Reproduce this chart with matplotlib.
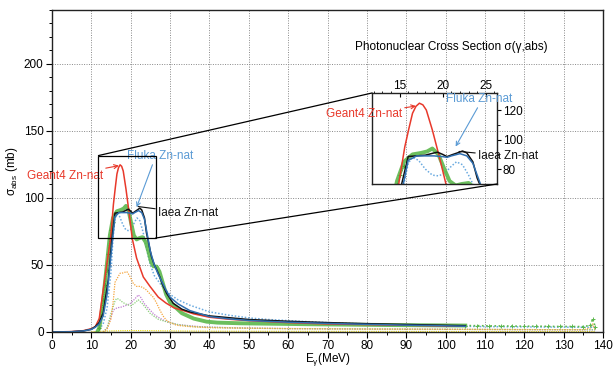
import matplotlib
matplotlib.use("Agg")
import matplotlib.pyplot as plt
from matplotlib.patches import Rectangle, ConnectionPatch

plt.rcParams['font.family'] = ['Liberation Sans', 'DejaVu Sans']
plt.rcParams['mathtext.fontset'] = 'custom'
plt.rcParams['mathtext.rm'] = 'Liberation Sans'
plt.rcParams['mathtext.it'] = 'Liberation Sans'

# --- data (E in MeV, sigma in mb) ---
geant4_e = [0, 5, 8, 10, 11, 12, 13, 14, 14.9, 15.6, 16.1, 16.5, 16.9, 17.3, 17.7, 18.1,
            18.8, 19.6, 20.4, 21.5, 23.2, 24.9, 27, 29, 31, 33.3, 36, 40, 45, 50, 60, 70,
            80, 90, 100, 105]
geant4_s = [0, 0.3, 1, 2.5, 4, 10, 31, 52, 70, 95, 108, 117.8, 122.5, 124.6, 123.5, 120,
            106.5, 88.6, 69.5, 55, 41, 34, 26, 21.5, 18, 16, 13.5, 11, 9.5, 8.5, 7, 6,
            5.5, 5, 4.5, 4.3]

iaea_e = [0, 5, 8, 10, 11, 12, 13, 14.3, 15.2, 16, 17, 18, 19, 19.4, 20, 20.5, 21.1, 21.7,
          22.3, 22.8, 23.5, 24, 25, 25.3, 26, 26.5, 27.4, 28, 29.1, 30.8, 33, 35, 40, 50,
          60, 70, 80, 90, 100, 105]
iaea_s = [0, 0.2, 0.8, 2, 4, 7, 14, 39, 69, 88.6, 89, 89.5, 91, 91.5, 90, 88.5, 89.8, 91,
          92.3, 91, 85, 74, 60, 56, 50, 47, 41, 36, 29, 21.4, 17, 15, 12, 9.3,
          8, 7, 6.2, 5.6, 5, 4.7]

fluka_e = [0, 5, 8, 10, 11, 12, 13, 14, 15, 16, 17, 18, 19, 20, 20.5, 21, 22, 22.8, 23.5,
           24, 24.5, 25, 26, 27, 28, 29, 30, 32, 35, 40, 45, 50, 60, 70, 80, 90, 100, 105]
fluka_s = [0, 0.2, 0.8, 2, 3.5, 6, 12, 28, 58, 86, 89, 89, 89, 88.5, 88, 89, 90.5, 89, 84,
           76, 68, 60, 50, 43, 37, 31, 26, 21, 16, 11.5, 9.8, 8.6, 7.3, 6.4, 5.7, 5.1, 4.6, 4.3]

green_e = [11.5, 12, 12.5, 13, 13.5, 14, 14.7, 15.5, 16.5, 17.5, 18.2, 18.8, 19.5, 20.2,
           20.8, 21.5, 22.2, 23, 23.8, 24.5, 25.2, 25.8, 26.6, 27.3, 28, 29, 30, 30.8, 33,
           36, 39.3, 42, 47.8, 55, 65, 75, 85, 95, 105]
green_s = [0, 3, 12, 24, 38, 52, 72, 85, 90, 91, 92, 94, 90, 80, 72, 69, 70, 70.7, 67, 60,
           52, 49, 48.7, 45, 38, 28, 22, 20, 14, 10, 7.7, 7, 6.5, 6.2, 5.8, 5.5, 5.2, 5, 4.8]

green_rise_e = [12, 12.5, 13, 13.5, 13.9, 14.3, 14.7, 15.1, 15.5]
green_rise_s = [3, 12, 24, 35, 46, 58, 69, 76, 82]

green_tail_e = [105, 108, 111, 114, 117, 120, 123, 126, 129, 132, 135, 136.8, 137.4, 138]
green_tail_s = [4.8, 4.7, 4.6, 4.5, 4.4, 4.3, 4.3, 4.2, 4.1, 4.1, 4, 5, 10, 4]

bluedot_e = [12, 13, 14, 15, 15.5, 16, 16.5, 17.2, 18, 18.8, 19.5, 20.2, 21, 21.6, 22.3, 23,
             23.5, 24, 25, 26, 27, 28, 30, 32, 35, 40, 45, 50, 55, 63, 70, 80, 90, 100,
             110, 120, 130, 138]
bluedot_s = [2, 6, 18, 45, 70, 84, 88, 86, 80, 76, 75.5, 77, 82, 85, 83, 76, 70, 62, 50,
             42, 38, 34, 28, 24, 20, 15, 12.5, 10.5, 9.3, 8, 7, 6, 5, 4.5, 4, 3.8, 3.6, 3.5]

orange_e = [13, 14, 15, 15.6, 16, 17.3, 18, 19, 19.7, 20.7, 21.5, 22.4, 23.2, 24, 25, 25.7,
            26.5, 27.4, 28.2, 29, 30, 31.7, 35, 40, 50, 60, 80, 100, 120, 130, 135, 136.8,
            137.4, 138]
orange_s = [0, 2, 10, 24, 37, 43.8, 44, 45, 42, 36, 34, 34, 33, 31.3, 28, 26, 22, 16.4, 12,
            9, 7, 5, 4, 3.2, 2.8, 2.5, 2.2, 2, 1.8, 1.7, 1.7, 3, 6, 1.7]

lgreen_e = [13, 14, 15, 16, 16.4, 17, 18, 19, 20, 21, 21.9, 23, 24.9, 26, 27, 29, 32, 36,
            40, 50, 60, 80, 100, 120, 138]
lgreen_s = [0, 3, 14, 23, 25, 24.5, 22, 20.5, 19.5, 21.5, 24, 21, 14, 11.5, 9.5, 7.7, 5.5,
            4, 3.5, 2.8, 2.5, 2.2, 2, 1.8, 1.7]

purple_e = [13, 14, 15, 15.6, 16.5, 17.5, 19, 20, 21, 21.9, 22.5, 23.5, 24.9, 26, 27, 29,
            32, 37.6, 45, 60, 80, 100, 120, 138]
purple_s = [0, 3, 11, 16.4, 18, 18.5, 20, 21.5, 24.5, 27.6, 26, 21, 16.4, 13, 11, 7.7, 5.5,
            4, 3.2, 2.6, 2.2, 2, 1.8, 1.6]

yellow_e = [10, 12, 15, 18, 20, 25, 30, 40, 60, 100, 138]
yellow_s = [0.2, 0.5, 0.8, 1, 1.1, 1, 0.8, 0.6, 0.5, 0.4, 0.3]

zoom_x = (11.8, 26.3)
zoom_y = (70, 131.5)

RED = '#e8392b'
BLACK = '#111111'
BLUE = '#2f6fb0'
LBLUE = '#5b9bd5'


def draw_curves(ax):
    ax.plot(yellow_e, yellow_s, color='#e8d800', lw=0.8, ls=(0, (1, 1)))
    ax.plot(purple_e, purple_s, color='#c07fd0', lw=0.9, ls=(0, (1, 1)))
    ax.plot(lgreen_e, lgreen_s, color='#8ccf7a', lw=0.9, ls=(0, (1, 1)))
    ax.plot(orange_e, orange_s, color='#f6a53c', lw=0.9, ls=(0, (1, 1)))
    ax.plot(bluedot_e, bluedot_s, color='#6aaae0', lw=1.1, ls=(0, (1, 1.2)))
    ax.plot(green_e, green_s, color='#5cb84c', lw=2.8, alpha=0.9)
    ax.plot(green_rise_e, green_rise_s, color='#49a83a', lw=0.8, ls=(0, (1, 1)),
            marker='+', ms=3, mew=0.8)
    ax.plot(green_tail_e, green_tail_s, color='#5cb84c', lw=1.2, ls=(0, (1, 1.5)),
            marker='+', ms=2.5, mew=0.7)
    ax.plot(geant4_e, geant4_s, color=RED, lw=1.1)
    ax.plot(iaea_e, iaea_s, color=BLACK, lw=1.1)
    ax.plot(fluka_e, fluka_s, color=BLUE, lw=1.1)


fig = plt.figure(figsize=(6.14, 3.69), dpi=100)
ax = fig.add_axes([52 / 614, 37 / 369, 551 / 614, 322 / 369])
draw_curves(ax)
ax.set_xlim(0, 140)
ax.set_ylim(0, 240)
ax.set_xticks(range(0, 141, 10))
ax.set_xticks(range(0, 141, 5), minor=True)
ax.set_yticks(range(0, 201, 50))
ax.set_yticks(range(0, 241, 10), minor=True)
ax.tick_params(labelsize=8.5, direction='out', length=4, width=0.8, pad=2)
ax.tick_params(which='minor', direction='out', length=2.5, width=0.7)
ax.grid(True, which='major', color='#888888', lw=0.7, ls=(0, (1, 1.5)))
for s in ax.spines.values():
    s.set_linewidth(1.0)
    s.set_color('#222222')
ax.set_xlabel('E$_γ$(MeV)', fontsize=8.5, labelpad=-1)
ax.set_ylabel('σ$_{\\rm abs}$ (mb)', fontsize=8.5, labelpad=3)

fig.text(451, 322, 'Photonuclear Cross Section σ(γ,abs)', transform=None,
         ha='center', va='center', fontsize=8.5)

# zoom rectangle on the main axes
ax.add_patch(Rectangle((zoom_x[0], zoom_y[0]), zoom_x[1] - zoom_x[0], zoom_y[1] - zoom_y[0],
                       fill=False, ec='black', lw=0.9, zorder=5))

arrow = dict(arrowstyle='->', lw=0.8, shrinkA=0, shrinkB=0, mutation_scale=7)
ax.annotate('Geant4 Zn-nat', xy=(17.0, 124), xytext=(103, 193), textcoords='figure pixels',
            ha='right', va='center', color=RED, fontsize=8.5,
            arrowprops=dict(arrow, color=RED))
ax.annotate('Fluka Zn-nat', xy=(21.5, 93), xytext=(127, 213), textcoords='figure pixels',
            ha='left', va='center', color=LBLUE, fontsize=8.5,
            arrowprops=dict(arrow, color=LBLUE, relpos=(0.4, 0)))
ax.annotate('Iaea Zn-nat', xy=(21.9, 93.5), xytext=(158, 156), textcoords='figure pixels',
            ha='left', va='center', color=BLACK, fontsize=8.5,
            arrowprops=dict(arrowstyle='-', lw=0.8, color=BLACK, shrinkA=0, shrinkB=0))

# inset
axin = fig.add_axes([372 / 614, 185 / 369, 125 / 614, 91 / 369])
axin.patch.set_alpha(0)
draw_curves(axin)
axin.set_xlim(*zoom_x)
axin.set_ylim(*zoom_y)
axin.set_xticks([15, 20, 25])
axin.set_xticks(range(12, 27), minor=True)
axin.set_yticks([80, 100, 120])
axin.set_yticks([90, 110], minor=True)
axin.xaxis.tick_top()
axin.yaxis.tick_right()
axin.tick_params(labelsize=8.5, length=3, width=0.8, pad=1)
axin.tick_params(axis='x', direction='in')
axin.tick_params(axis='y', direction='out')
axin.tick_params(which='minor', length=1.8, width=0.6)
for s in axin.spines.values():
    s.set_linewidth(1.0)
    s.set_color('#222222')

axin.annotate('Geant4 Zn-nat', xy=(16.9, 122.7), xytext=(402, 255), textcoords='figure pixels',
              ha='right', va='center', color=RED, fontsize=8.5,
              arrowprops=dict(arrow, color=RED), annotation_clip=False)
axin.annotate('Fluka Zn-nat', xy=(21.5, 95.3), xytext=(446, 270), textcoords='figure pixels',
              ha='left', va='center', color=LBLUE, fontsize=8.5,
              arrowprops=dict(arrow, color=LBLUE, relpos=(0.5, 0)), annotation_clip=False)
axin.annotate('Iaea Zn-nat', xy=(21.9, 92), xytext=(478, 213), textcoords='figure pixels',
              ha='left', va='center', color=BLACK, fontsize=8.5,
              arrowprops=dict(arrowstyle='-', lw=0.8, color=BLACK, shrinkA=0, shrinkB=0),
              annotation_clip=False)

# connector lines from zoom box to inset
for xyA, xyB in [((zoom_x[0], zoom_y[1]), (0, 1)), ((zoom_x[1], zoom_y[0]), (1, 0))]:
    con = ConnectionPatch(xyA=xyA, coordsA=ax.transData, xyB=xyB, coordsB=axin.transAxes,
                          color='black', lw=0.9)
    fig.add_artist(con)

fig.savefig('out.png', dpi=100)
